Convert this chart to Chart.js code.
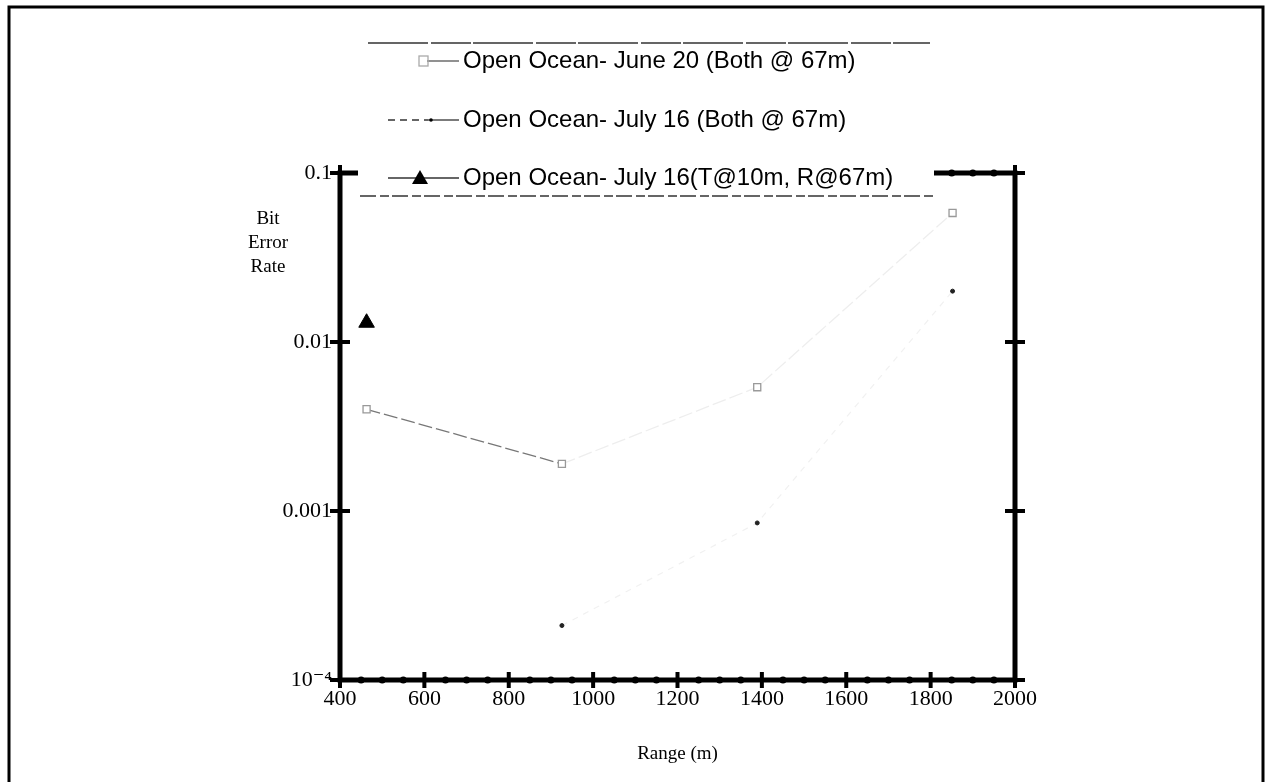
<!DOCTYPE html>
<html>
<head>
<meta charset="utf-8">
<script src="https://cdn.jsdelivr.net/npm/chart.js@4"></script>
<style>
  body { margin: 0; background: #fff; }
  canvas { display: block; }
</style>
</head>
<body>
<canvas id="berChart" width="1268" height="782"></canvas>
<script>
// ranges in metres (quarter nautical mile steps), bit error rates per run
const rangeJune20 = [463, 926, 1389, 1852];
const berJune20 = [0.0040, 0.0019, 0.0054, 0.058];

const rangeJuly16 = [926, 1389, 1852];
const berJuly16 = [0.00021, 0.00085, 0.020];

const rangeJuly16Shallow = [463];
const berJuly16Shallow = [0.013];

const seriesLabels = [
  "Open Ocean- June 20 (Both @ 67m)",
  "Open Ocean- July 16 (Both @ 67m)",
  "Open Ocean- July 16(T@10m, R@67m)",
];

const xTickValues = [400, 600, 800, 1000, 1200, 1400, 1600, 1800, 2000];
const xMinorStep = 50;
const yTickValues = [0.0001, 0.001, 0.01, 0.1];
const yTickLabels = ["10\u207B\u2074", "0.001", "0.01", "0.1"];

function toPoints(xs, ys) {
  return xs.map((x, i) => ({ x: x, y: ys[i] }));
}

const serif = "'Liberation Serif', 'DejaVu Serif', serif";
const sans = "'Liberation Sans', Arial, sans-serif";

// axes box, crossing ticks, page border and the boxed legend
const frame = {
  id: "frame",
  beforeDraw(chart) {
    const ctx = chart.ctx;
    ctx.save();
    ctx.strokeStyle = "#000";
    ctx.lineWidth = 3;
    ctx.beginPath();
    ctx.moveTo(9, 800);
    ctx.lineTo(9, 7);
    ctx.lineTo(1263, 7);
    ctx.lineTo(1263, 800);
    ctx.stroke();

    // y axis title, written across
    ctx.fillStyle = "#000";
    ctx.font = "19px " + serif;
    ctx.textAlign = "center";
    ctx.textBaseline = "middle";
    ["Bit", "Error", "Rate"].forEach((t, i) => ctx.fillText(t, 268, 219 + i * 24));
    ctx.restore();
  },
  afterDatasetsDraw(chart) {
    const { ctx, chartArea: a, scales } = chart;
    const x = scales.x;
    const y = scales.y;
    ctx.save();
    ctx.strokeStyle = "#000";
    ctx.fillStyle = "#000";
    ctx.lineWidth = 5;
    ctx.strokeRect(a.left, a.top, a.right - a.left, a.bottom - a.top);

    ctx.lineWidth = 4;
    for (let v = x.min; v <= x.max; v += xMinorStep) {
      const px = x.getPixelForValue(v);
      [a.bottom, a.top].forEach((py) => {
        if (xTickValues.includes(v)) {
          ctx.beginPath();
          ctx.moveTo(px, py - 8);
          ctx.lineTo(px, py + 8);
          ctx.stroke();
        } else {
          ctx.beginPath();
          ctx.arc(px, py, 3.5, 0, Math.PI * 2);
          ctx.fill();
        }
      });
    }
    yTickValues.forEach((v) => {
      const py = y.getPixelForValue(v);
      [a.left, a.right].forEach((px) => {
        ctx.beginPath();
        ctx.moveTo(px - 10, py);
        ctx.lineTo(px + 10, py);
        ctx.stroke();
      });
    });

    // legend box sits over the top of the plot
    ctx.fillStyle = "#fff";
    ctx.fillRect(358, 44, 576, 152);
    ctx.strokeStyle = "#333";
    ctx.lineWidth = 1.5;
    ctx.setLineDash([60, 3, 40, 2]);
    ctx.beginPath();
    ctx.moveTo(368, 43);
    ctx.lineTo(930, 43);
    ctx.stroke();
    ctx.setLineDash([16, 4, 9, 3]);
    ctx.beginPath();
    ctx.moveTo(360, 196);
    ctx.lineTo(933, 196);
    ctx.stroke();
    ctx.setLineDash([]);

    const rows = [61, 120, 178];
    ctx.fillStyle = "#000";
    ctx.font = "24px " + sans;
    ctx.textAlign = "left";
    ctx.textBaseline = "middle";
    chart.data.datasets.forEach((ds, i) => ctx.fillText(ds.label, 463, rows[i]));

    ctx.lineWidth = 1.3;
    // June 20 sample: open square and line
    ctx.strokeStyle = "#555";
    ctx.beginPath();
    ctx.moveTo(427, rows[0]);
    ctx.lineTo(459, rows[0]);
    ctx.stroke();
    ctx.strokeStyle = "#aaa";
    ctx.strokeRect(419, rows[0] - 5, 9, 10);
    // July 16 sample: dashes then solid
    ctx.strokeStyle = "#333";
    ctx.setLineDash([7, 5]);
    ctx.beginPath();
    ctx.moveTo(388, rows[1]);
    ctx.lineTo(428, rows[1]);
    ctx.stroke();
    ctx.setLineDash([]);
    ctx.beginPath();
    ctx.moveTo(428, rows[1]);
    ctx.lineTo(459, rows[1]);
    ctx.stroke();
    ctx.fillStyle = "#000";
    ctx.beginPath();
    ctx.arc(431, rows[1], 1.8, 0, Math.PI * 2);
    ctx.fill();
    // T@10m sample: line with filled triangle
    ctx.beginPath();
    ctx.moveTo(388, rows[2]);
    ctx.lineTo(459, rows[2]);
    ctx.stroke();
    ctx.beginPath();
    ctx.moveTo(420, rows[2] - 8);
    ctx.lineTo(428, rows[2] + 6);
    ctx.lineTo(412, rows[2] + 6);
    ctx.closePath();
    ctx.fill();
    ctx.restore();
  },
};

new Chart(document.getElementById("berChart"), {
  type: "scatter",
  data: {
    datasets: [
      {
        label: seriesLabels[0],
        data: toPoints(rangeJune20, berJune20),
        showLine: true,
        borderColor: "#777",
        borderWidth: 1.3,
        borderDash: [14, 4],
        segment: {
          borderColor: (c) => (c.p0DataIndex === 0 ? "#777" : "rgba(0,0,0,0.07)"),
        },
        pointStyle: "rect",
        pointRadius: 5,
        pointBorderColor: "#999",
        pointBackgroundColor: "#fff",
        pointBorderWidth: 1.3,
      },
      {
        label: seriesLabels[1],
        data: toPoints(rangeJuly16, berJuly16),
        showLine: true,
        borderColor: "rgba(0,0,0,0.06)",
        borderWidth: 1.2,
        borderDash: [6, 6],
        pointStyle: "circle",
        pointRadius: 2,
        pointBorderColor: "#222",
        pointBackgroundColor: "#222",
        pointBorderWidth: 1,
      },
      {
        label: seriesLabels[2],
        data: toPoints(rangeJuly16Shallow, berJuly16Shallow),
        showLine: false,
        pointStyle: "triangle",
        pointRadius: 9,
        pointBorderColor: "#000",
        pointBackgroundColor: "#000",
      },
    ],
  },
  options: {
    responsive: false,
    animation: false,
    devicePixelRatio: 1,
    layout: { padding: { top: 173, right: 253, left: 0, bottom: 0 } },
    plugins: {
      legend: { display: false },
      tooltip: { enabled: false },
    },
    scales: {
      x: {
        type: "linear",
        min: 400,
        max: 2000,
        afterBuildTicks(scale) {
          scale.ticks = xTickValues.map((v) => ({ value: v }));
        },
        ticks: {
          color: "#000",
          font: { family: serif, size: 22 },
          padding: 6,
          maxRotation: 0,
          autoSkip: false,
          callback: (v) => String(v),
        },
        grid: { display: false, drawTicks: false },
        border: { display: false },
        title: {
          display: true,
          text: "Range (m)",
          color: "#000",
          font: { family: serif, size: 19 },
          padding: { top: 17, bottom: 17 },
        },
        afterFit(scale) {
          scale.height = 102;
        },
      },
      y: {
        type: "logarithmic",
        min: 0.0001,
        max: 0.1,
        afterBuildTicks(scale) {
          scale.ticks = yTickValues.map((v) => ({ value: v }));
        },
        ticks: {
          color: "#000",
          font: { family: serif, size: 22 },
          padding: 8,
          autoSkip: false,
          callback: (v) => yTickLabels[yTickValues.indexOf(v)],
        },
        grid: { display: false, drawTicks: false },
        border: { display: false },
        afterFit(scale) {
          scale.width = 340;
        },
      },
    },
  },
  plugins: [frame],
});
</script>
</body>
</html>
